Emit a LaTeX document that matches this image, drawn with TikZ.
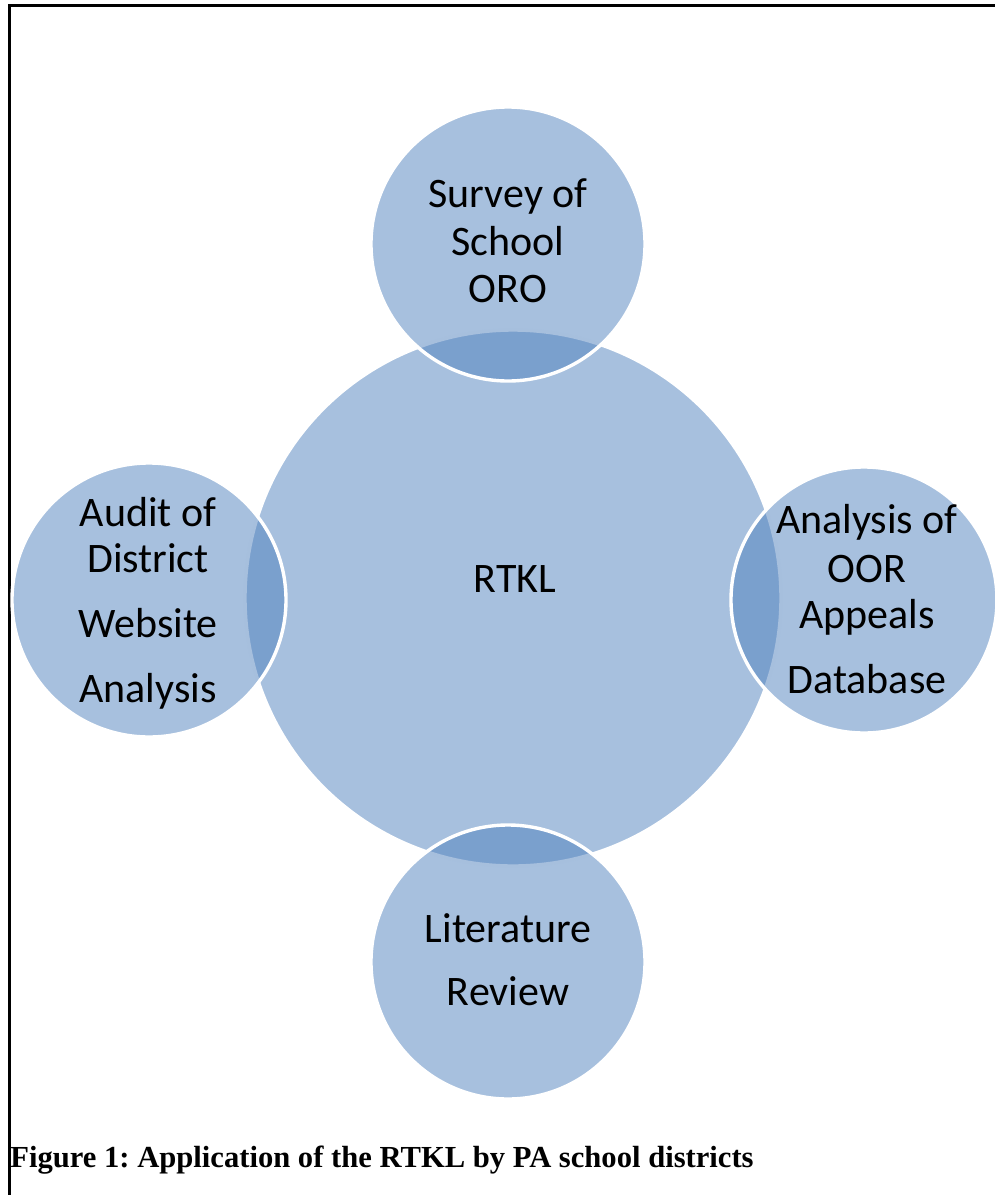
\documentclass[tikz,border=0pt]{standalone}
\usepackage{fontspec}
\setmainfont{Carlito}
\newfontfamily\capfont{Liberation Serif}
\definecolor{accent}{HTML}{4F81BD}
\frenchspacing
\begin{document}
\begin{tikzpicture}[x=0.5pt,y=-0.5pt,
  venn/.style={circle, inner sep=0pt, fill=accent, fill opacity=0.5,
               draw=white, draw opacity=1, line width=1.7pt},
  lbl/.style={anchor=base, inner sep=0pt, font=\fontsize{21}{24}\selectfont},
  caption/.style={anchor=base west, inner sep=0pt,
                  font=\capfont\bfseries\fontsize{15.3}{18}\selectfont}]
  \useasboundingbox (0,0) rectangle (995,1195);
  % frame (open to the right and bottom)
  \draw[line width=1.5pt] (9,1195) -- (9,5) -- (995,5);

  % central circle and the four satellites (sizes in pt = half the px grid)
  \node[venn, minimum size=268pt] (core) at (513,598) {};
  \node[venn, minimum size=137pt] (top) at (508,244) {};
  \node[venn, minimum size=137pt] (left) at (149,600) {};
  \node[venn, minimum size=133pt] (right) at (864,600) {};
  \node[venn, minimum size=137pt] (bottom) at (508,962) {};

  % labels
  \node[lbl] (core1) at (515,592) {RTKL};

  \node[lbl] (top1) at (508,207) {Survey of};
  \node[lbl] (top2) at (508,255) {School};
  \node[lbl] (top3) at (508,302) {ORO};

  \node[lbl] (left1) at (148,526) {Audit of};
  \node[lbl] (left2) at (148,572) {District};
  \node[lbl] (left3) at (148,637) {Website};
  \node[lbl] (left4) at (148,702) {Analysis};

  \node[lbl] (right1) at (867,533) {Analysis of};
  \node[lbl] (right2) at (867,582) {OOR};
  \node[lbl] (right3) at (867,628) {Appeals};
  \node[lbl] (right4) at (867,693) {Database};

  \node[lbl] (bot1) at (508,942) {Literature};
  \node[lbl] (bot2) at (508,1005) {Review};

  \node[caption] (cap) at (10,1167) {Figure 1: Application of the RTKL by PA school districts};
\end{tikzpicture}
\end{document}
